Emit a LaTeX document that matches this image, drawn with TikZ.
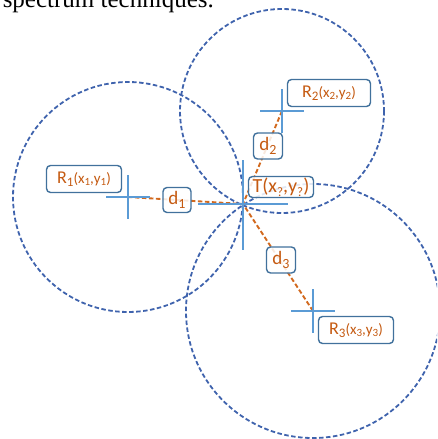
\documentclass[tikz,border=0pt]{standalone}
\usepackage{fontspec}
\setmainfont{Carlito}
\newfontfamily\serifdoc{Liberation Serif}
\usetikzlibrary{calc}
\definecolor{circblue}{HTML}{3F63AD}
\definecolor{crossblue}{HTML}{5B9BD5}
\definecolor{lineorange}{HTML}{D2691E}
\definecolor{txtorange}{HTML}{C55A11}
\definecolor{boxblue}{HTML}{41719C}
\tikzset{
  rangecircle/.style={draw=circblue, line width=1.8pt, dash pattern=on 4.5pt off 2.5pt},
  rangeline/.style={draw=lineorange, line width=1.9pt, dash pattern=on 4.5pt off 2.5pt},
  crosshair/.style={draw=crossblue, line width=1.5pt},
  labelbox/.style={draw=boxblue, line width=1.4pt, rounded corners=4pt, fill=white, fill opacity=0.85, text opacity=1, text=txtorange, inner sep=0pt, align=center},
}
\newcommand{\crossat}[2]{\draw[crosshair] ($(#1)+(-#2,0)$) -- ($(#1)+(#2,0)$); \draw[crosshair] ($(#1)+(0,-#2)$) -- ($(#1)+(0,#2)$);}
\newcommand{\lowidx}[2]{\raisebox{-0.4ex}{\fontsize{#1}{#1}\selectfont #2}}
\begin{document}
\begin{tikzpicture}[x=1pt,y=-1pt]
\useasboundingbox (0,0) rectangle (437,439);
\begin{scope}
\clip (0,0) rectangle (437,439);
\node[anchor=base east, font=\serifdoc\fontsize{25}{25}\selectfont, inner sep=0pt] (doctext) at (214,7) {spectrum techniques.};
% anchors
\coordinate (R1) at (128,197);
\coordinate (R2) at (282,111);
\coordinate (R3) at (313,311);
\coordinate (T) at (243,204);
% circles
\draw[rangecircle] (R1) circle[radius=115];
\draw[rangecircle] (R2) circle[radius=102];
\draw[rangecircle] (R3) circle[radius=127];
% range lines
\draw[rangeline] (R1) -- (T);
\draw[rangeline] (R2) -- (T);
\draw[rangeline] (R3) -- (T);
% crosshairs
\crossat{R1}{22}
\crossat{R2}{22}
\crossat{R3}{22}
\draw[crosshair] ($(T)+(-45,0)$) -- ($(T)+(45,0)$);
\draw[crosshair] ($(T)+(0,-44)$) -- ($(T)+(0,46)$);
% labels
\node[labelbox, minimum width=75pt, minimum height=27pt] (L1) at (84,179) {\fontsize{18}{18}\selectfont R\lowidx{13}{1}\fontsize{15}{15}\selectfont(x\lowidx{11}{1},y\lowidx{11}{1})};
\node[labelbox, minimum width=83pt, minimum height=27pt] (L2) at (329,93) {\fontsize{18}{18}\selectfont R\lowidx{13}{2}\fontsize{15}{15}\selectfont(x\lowidx{11}{2},y\lowidx{11}{2})};
\node[labelbox, minimum width=75pt, minimum height=27pt] (L3) at (356,330) {\fontsize{18}{18}\selectfont R\lowidx{13}{3}\fontsize{15}{15}\selectfont(x\lowidx{11}{3},y\lowidx{11}{3})};
\node[labelbox, minimum width=65pt, minimum height=21pt] (LT) at (281,187) {\fontsize{20}{20}\selectfont T(x\lowidx{13}{?},y\lowidx{13}{?})};
\node[labelbox, minimum width=28pt, minimum height=25pt] (D1) at (177,200) {\fontsize{19}{19}\selectfont d\lowidx{14}{1}};
\node[labelbox, minimum width=29pt, minimum height=26pt] (D2) at (268,146) {\fontsize{19}{19}\selectfont d\lowidx{14}{2}};
\node[labelbox, minimum width=29pt, minimum height=26pt] (D3) at (281,260) {\fontsize{19}{19}\selectfont d\lowidx{14}{3}};
\end{scope}
\end{tikzpicture}
\end{document}
